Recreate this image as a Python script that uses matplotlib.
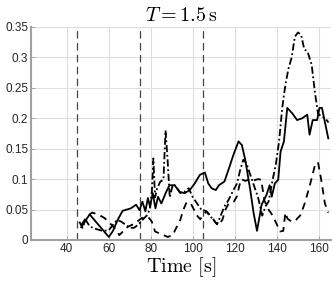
import matplotlib.pyplot as plt
import numpy as np

plt.rcParams['mathtext.fontset'] = 'cm'
plt.rcParams['font.family'] = ['Liberation Sans', 'DejaVu Sans']

# solid series
t_solid = [46.9, 50.9, 60.0, 62.0, 64.2, 66.6, 70.5, 73.0, 74.6, 76.0, 77.4,
           78.6, 79.6, 80.9, 82.2, 83.4, 85.0, 87.3, 88.9, 91.3, 93.7, 96.1,
           98.5, 100.9, 103.3, 105.7, 107.3, 108.9, 110.9, 112.4, 115.0,
           116.9, 119.3, 121.7, 123.3, 124.9, 127.3, 128.9, 130.5, 132.7,
           135.0, 136.5, 137.5, 139.0, 140.6, 141.7, 143.3, 144.9, 147.3,
           149.6, 152.0, 154.4, 155.5, 157.0, 159.1, 160.2, 161.4, 164.4]
y_solid = [0.021, 0.042, 0.005, 0.015, 0.033, 0.048, 0.052, 0.058, 0.049,
           0.063, 0.047, 0.069, 0.055, 0.077, 0.052, 0.071, 0.060, 0.079,
           0.090, 0.090, 0.079, 0.077, 0.082, 0.093, 0.107, 0.111, 0.093,
           0.085, 0.082, 0.090, 0.096, 0.115, 0.140, 0.162, 0.156, 0.132,
           0.082, 0.044, 0.015, 0.058, 0.074, 0.090, 0.071, 0.093, 0.099,
           0.145, 0.162, 0.217, 0.208, 0.197, 0.200, 0.206, 0.173, 0.197,
           0.197, 0.217, 0.217, 0.167]

# dashed series
t_dash = [47.0, 49.5, 52.0, 55.0, 58.0, 61.3, 63.7, 65.0, 67.0, 69.2, 72.4,
          75.6, 78.7, 80.5, 82.0, 84.0, 86.0, 88.0, 90.5, 91.5, 94.0, 95.5,
          97.0, 99.0, 100.5, 102.0, 103.5, 105.0, 106.5, 109.0, 110.5, 112.0,
          114.0, 115.5, 117.0, 119.5, 121.0, 122.0, 123.0, 125.0, 127.0,
          129.0, 131.0, 132.5, 134.0, 136.0, 138.0, 140.0, 141.5, 143.0,
          144.0, 145.0, 147.0, 149.0, 151.0, 153.0, 155.5, 158.0, 159.5,
          161.0, 162.8, 164.4]
y_dash = [0.025, 0.038, 0.045, 0.042, 0.036, 0.025, 0.016, 0.008, 0.015,
          0.022, 0.027, 0.036, 0.038, 0.030, 0.014, 0.011, 0.008, 0.005,
          0.008, 0.016, 0.033, 0.050, 0.062, 0.060, 0.050, 0.040, 0.034,
          0.042, 0.047, 0.038, 0.030, 0.024, 0.033, 0.050, 0.060, 0.063,
          0.072, 0.088, 0.100, 0.097, 0.100, 0.098, 0.100, 0.099, 0.065,
          0.050, 0.040, 0.025, 0.014, 0.015, 0.045, 0.035, 0.030, 0.033,
          0.040, 0.058, 0.088, 0.122, 0.128, 0.100, 0.060, 0.045]

# dash-dot series
t_dd = [46.0, 47.5, 49.0, 51.0, 54.0, 57.0, 60.0, 62.0, 64.0, 66.0, 68.0,
        70.0, 72.0, 74.0, 76.0, 78.0, 79.5, 80.5, 81.2, 82.0, 83.0, 84.5,
        86.0, 87.0, 88.0, 89.0, 90.5, 92.0, 94.0, 96.0, 98.0, 100.0, 102.0,
        104.0, 106.0, 108.0, 110.0, 111.5, 113.0, 115.0, 117.0, 119.0,
        121.0, 122.5, 124.0, 125.5, 127.0, 129.0, 131.0, 133.0, 134.5,
        136.0, 138.0, 139.5, 141.0, 142.5, 144.0, 145.5, 147.0, 148.5,
        150.0, 151.5, 153.0, 154.5, 156.5, 158.0, 159.5, 161.0, 163.0, 164.5]
y_dd = [0.030, 0.020, 0.033, 0.022, 0.018, 0.015, 0.016, 0.025, 0.033, 0.030,
        0.025, 0.020, 0.020, 0.025, 0.033, 0.040, 0.050, 0.080, 0.134, 0.070,
        0.085, 0.096, 0.099, 0.180, 0.130, 0.070, 0.092, 0.088, 0.077, 0.079,
        0.085, 0.070, 0.060, 0.050, 0.048, 0.040, 0.032, 0.026, 0.038, 0.055,
        0.066, 0.080, 0.093, 0.115, 0.132, 0.126, 0.110, 0.090, 0.070, 0.040,
        0.055, 0.063, 0.100, 0.125, 0.162, 0.217, 0.255, 0.282, 0.300, 0.334,
        0.341, 0.337, 0.313, 0.310, 0.288, 0.244, 0.208, 0.203, 0.200, 0.193]

event_times = [45, 75, 105]
x_ticks = [40, 60, 80, 100, 120, 140, 160]
y_ticks = [0, 0.05, 0.1, 0.15, 0.2, 0.25, 0.3, 0.35]
y_labels = ['0', '0.05', '0.1', '0.15', '0.2', '0.25', '0.3', '0.35']

fig = plt.figure(figsize=(3.32, 2.87), dpi=100)
ax = fig.add_axes([0.0934, 0.1638, 0.9036, 0.7422])

ax.grid(True, color='#dedede', lw=0.8)
ax.set_axisbelow(True)

for tx in event_times:
    ax.axvline(tx, color='#444444', lw=0.9, ls=(0, (6, 3.5)))

ax.plot(t_solid, y_solid, color='k', lw=1.3, ls='-')
ax.plot(t_dash, y_dash, color='k', lw=1.3, ls=(0, (4, 3)))
ax.plot(t_dd, y_dd, color='k', lw=1.3, ls=(0, (4, 1.5, 1, 1.5)))

ax.set_xlim(23, 165.7)
ax.set_ylim(0, 0.35)
ax.set_xticks(x_ticks)
ax.set_yticks(y_ticks)
ax.set_yticklabels(y_labels)
ax.tick_params(direction='in', length=3, width=0.6, labelsize=8.5,
               colors='#262626', pad=2)
ax.tick_params(axis='both', color='#999999')

for side in ['top', 'right']:
    ax.spines[side].set_visible(False)
for side in ['left', 'bottom']:
    ax.spines[side].set_color('#a0a0a0')
    ax.spines[side].set_linewidth(1.5)

ax.set_title(r'$T = 1.5\,\mathrm{s}$', fontsize=14.5, pad=4)
ax.set_xlabel(r'$\mathrm{Time\ [s]}$', fontsize=14.5, labelpad=0)

fig.savefig('out.png', dpi=100)
